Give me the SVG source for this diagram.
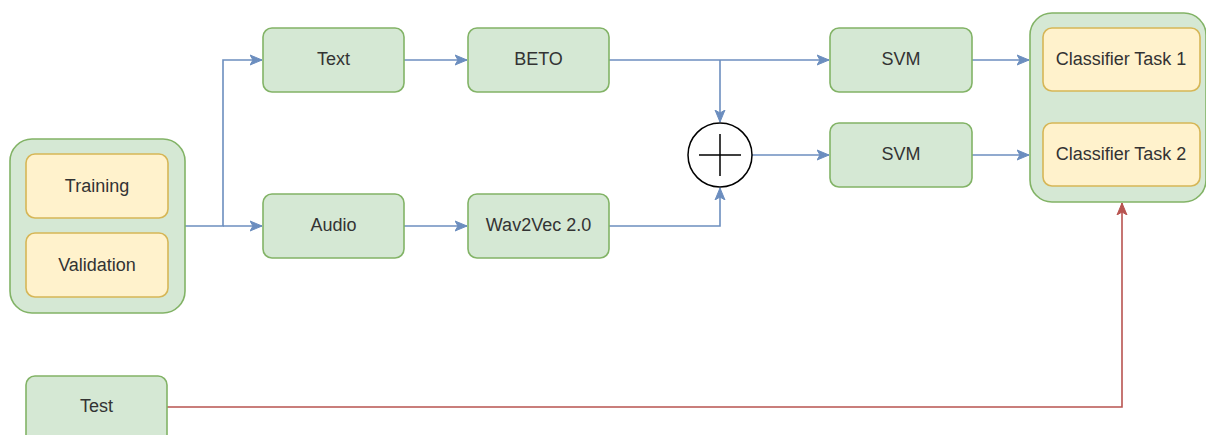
<svg xmlns="http://www.w3.org/2000/svg" width="1206" height="435" viewBox="0 0 1206 435">
<style>
.g{fill:#d5e8d4;stroke:#82b366;stroke-width:1.6}
.y{fill:#fff2cc;stroke:#d6b656;stroke-width:1.6}
.t{font-family:"Liberation Sans",Arial,sans-serif;font-size:18px;fill:#333;text-anchor:middle;dominant-baseline:central}
.b{fill:none;stroke:#6c8ebf;stroke-width:1.6}
.r{fill:none;stroke:#b85450;stroke-width:1.6}
</style>
<defs>
<marker id="ab" viewBox="0 0 12 12" refX="12" refY="6" markerWidth="12" markerHeight="12" markerUnits="userSpaceOnUse" orient="auto"><path d="M0,1 L12,6 L0,11 L3,6 Z" fill="#6c8ebf" stroke="#6c8ebf"/></marker>
<marker id="ar" viewBox="0 0 12 12" refX="12" refY="6" markerWidth="12" markerHeight="12" markerUnits="userSpaceOnUse" orient="auto"><path d="M0,1 L12,6 L0,11 L3,6 Z" fill="#b85450" stroke="#b85450"/></marker>
</defs>
<g id="connectors">
<path class="b" d="M185,226 H223 V60 H262" marker-end="url(#ab)"/>
<path class="b" d="M223,226 H262" marker-end="url(#ab)"/>
<path class="b" d="M404,60 H467" marker-end="url(#ab)"/>
<path class="b" d="M404,226 H467" marker-end="url(#ab)"/>
<path class="b" d="M609,60 H829" marker-end="url(#ab)"/>
<path class="b" d="M720,60 V122" marker-end="url(#ab)"/>
<path class="b" d="M609,226 H720 V188" marker-end="url(#ab)"/>
<path class="b" d="M752,155 H829" marker-end="url(#ab)"/>
<path class="b" d="M972,60 H1029" marker-end="url(#ab)"/>
<path class="b" d="M972,155 H1029" marker-end="url(#ab)"/>
<path class="r" d="M167,407 H1122 V203" marker-end="url(#ar)"/>
</g>
<g id="data">
<rect class="g" x="10" y="139" width="175" height="174" rx="22"/>
<g id="training"><rect class="y" x="26" y="154" width="142" height="64" rx="9"/><text class="t" x="97" y="186">Training</text></g>
<g id="validation"><rect class="y" x="26" y="233" width="142" height="64" rx="9"/><text class="t" x="97" y="265">Validation</text></g>
</g>
<g id="text"><rect class="g" x="263" y="28" width="141" height="64" rx="9"/><text class="t" x="333.5" y="59">Text</text></g>
<g id="audio"><rect class="g" x="263" y="194" width="141" height="64" rx="9"/><text class="t" x="333.5" y="225">Audio</text></g>
<g id="beto"><rect class="g" x="468" y="28" width="141" height="64" rx="9"/><text class="t" x="538.5" y="59">BETO</text></g>
<g id="wav2vec"><rect class="g" x="468" y="194" width="141" height="64" rx="9"/><text class="t" x="538.5" y="225">Wav2Vec 2.0</text></g>
<g id="sum"><circle cx="720" cy="155" r="32" fill="#fff" stroke="#000" stroke-width="1.5"/><path d="M699,155 H741 M720,134 V176" stroke="#000" stroke-width="1.5"/></g>
<g id="svm1"><rect class="g" x="830" y="28" width="142" height="64" rx="9"/><text class="t" x="901" y="59">SVM</text></g>
<g id="svm2"><rect class="g" x="830" y="123" width="142" height="64" rx="9"/><text class="t" x="901" y="154">SVM</text></g>
<g id="classifiers">
<rect class="g" x="1030" y="13" width="176" height="189" rx="22"/>
<g id="task1"><rect class="y" x="1043" y="28" width="157" height="63" rx="9"/><text class="t" x="1121" y="59">Classifier Task 1</text></g>
<g id="task2"><rect class="y" x="1043" y="123" width="157" height="63" rx="9"/><text class="t" x="1121" y="154">Classifier Task 2</text></g>
</g>
<g id="test"><rect class="g" x="26" y="376" width="141" height="70" rx="9"/><text class="t" x="96.5" y="406">Test</text></g>
</svg>
